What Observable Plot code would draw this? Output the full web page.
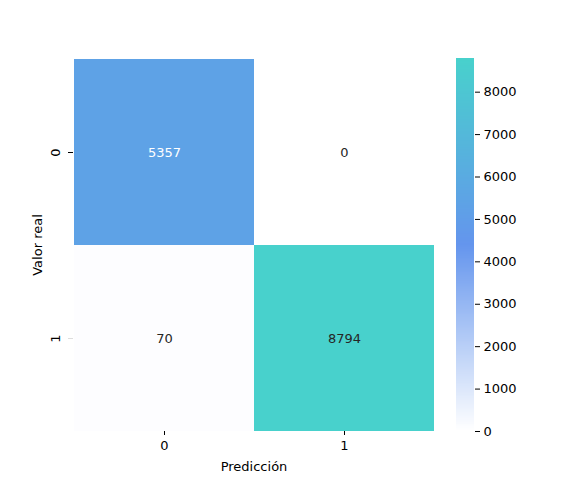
<!DOCTYPE html>
<html>
<head>
<meta charset="utf-8">
<script src="https://cdn.jsdelivr.net/npm/d3@7"></script>
<script src="https://cdn.jsdelivr.net/npm/@observablehq/plot@0.6"></script>
<style>
  html, body { margin: 0; padding: 0; background: white; }
  #wrap { position: relative; width: 582px; height: 485px; background: white; }
  #wrap svg { position: absolute; top: 0; }
</style>
</head>
<body>
<div id="wrap"></div>
<script>
// Data
const predLabels = ["0", "1"];
const realLabels = ["0", "1"];
const counts = [
  [5357, 0],
  [70, 8794]
];
const colorbarTicks = [0, 1000, 2000, 3000, 4000, 5000, 6000, 7000, 8000];
const colorStops = ["white", "#6495ED", "#48D1CC"];

const cells = [];
realLabels.forEach((r, i) => predLabels.forEach((p, j) => cells.push({real: r, pred: p, value: counts[i][j]})));

const vmax = d3.max(cells, d => d.value);
const colorDomain = [0, vmax / 2, vmax];
const colorOpts = {type: "linear", domain: colorDomain, range: colorStops, interpolate: "rgb"};

// text colour like seaborn (luminance threshold)
const cfun = d3.scaleLinear().domain(colorDomain).range(colorStops).interpolate(d3.interpolateRgb);
function lum(c) {
  const rgb = d3.rgb(c);
  const f = v => { v /= 255; return v <= 0.03928 ? v / 12.92 : Math.pow((v + 0.055) / 1.055, 2.4); };
  return 0.2126 * f(rgb.r) + 0.7152 * f(rgb.g) + 0.0722 * f(rgb.b);
}
const textColor = d => lum(cfun(d.value)) > 0.408 ? "#262626" : "white";

const font = {fontFamily: "DejaVu Sans", fontSize: "13px", color: "black", background: "transparent"};

const heat = Plot.plot({
  width: 440,
  height: 485,
  marginLeft: 73,
  marginRight: 6,
  marginTop: 58,
  marginBottom: 54,
  style: font,
  x: {type: "band", domain: predLabels, padding: 0, label: null},
  y: {type: "band", domain: realLabels, padding: 0, label: null},
  color: colorOpts,
  marks: [
    Plot.cell(cells, {x: "pred", y: "real", fill: "value", inset: 0}),
    Plot.text(cells, {x: "pred", y: "real", text: d => String(d.value), fill: textColor, fontSize: 13}),
    Plot.axisX({tickSize: 4, tickPadding: 5, fontSize: 13, label: null}),
    Plot.axisY({ticks: ["0"], tickSize: 5, tickFormat: () => "", label: null}),
    Plot.axisY({ticks: ["1"], tickSize: 5, tickFormat: () => "", stroke: "#dddddd", label: null}),
    Plot.text(realLabels, {y: d => d, frameAnchor: "left", dx: -18, rotate: -90, textAnchor: "middle", lineAnchor: "middle", fontSize: 13, fill: "black"}),
    Plot.text(["Predicción"], {frameAnchor: "bottom", dy: 35, textAnchor: "middle", lineAnchor: "middle", fontSize: 13, fill: "black"}),
    Plot.text(["Valor real"], {frameAnchor: "left", dx: -36, rotate: -90, textAnchor: "middle", lineAnchor: "middle", fontSize: 13, fill: "black"})
  ]
});

// colour bar
const step = vmax / 400;
const bands = d3.range(0, 400).map(i => ({y1: i * step, y2: (i + 1) * step, v: (i + 0.5) * step}));
const bar = Plot.plot({
  width: 142,
  height: 485,
  marginLeft: 16,
  marginRight: 108,
  marginTop: 58,
  marginBottom: 54,
  style: font,
  x: {domain: [0, 1], axis: null},
  y: {domain: [0, vmax], label: null},
  color: colorOpts,
  marks: [
    Plot.rect(bands, {x1: 0, x2: 1, y1: "y1", y2: "y2", fill: "v", shapeRendering: "crispEdges"}),
    Plot.axisY({anchor: "right", ticks: colorbarTicks, tickSize: 5, tickPadding: 4, tickFormat: d => String(d), fontSize: 13, label: null})
  ]
});
bar.style.left = "440px";

document.getElementById("wrap").append(heat, bar);
</script>
</body>
</html>
